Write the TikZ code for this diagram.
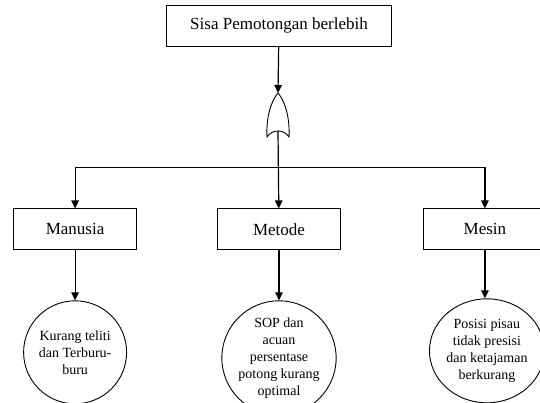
\documentclass[tikz,border=0pt]{standalone}
\usepackage{fontspec}
\setmainfont{Liberation Serif}
\usetikzlibrary{shapes.geometric, arrows.meta, positioning}

\begin{document}
\begin{tikzpicture}[
  x=1pt, y=-1pt,
  node distance=162pt and 81pt,
  box/.style={rectangle, draw, line width=0.9pt,
              minimum width=123pt, minimum height=41pt,
              font=\fontsize{17}{20}\selectfont},
  cause/.style={circle, draw, line width=0.9pt, minimum size=103pt,
                inner sep=0pt, align=center,
                font=\fontsize{14}{17}\selectfont},
  arrow/.style={-{Triangle[length=8pt, width=7.5pt]}, line width=1.2pt},
]
  \useasboundingbox (0,0) rectangle (540,403);

  % Top event
  \node[box, minimum width=225pt] (top) at (279,25.5) {Sisa Pemotongan berlebih};

  % OR gate
  \coordinate (gtop) at (278,93);
  \coordinate (gbot) at (278,131);
  \draw[line width=0.9pt] (gtop) .. controls (272,100) and (266,115) .. (267,137)
    .. controls (272,129) and (284,129) .. (289,137)
    .. controls (290,115) and (284,100) .. (gtop);

  % Causes
  \node[box, below=162pt of top.south, anchor=north] (met) {Metode};
  \node[box, left=80pt of met]  (man) {Manusia};
  \node[box, right=82pt of met] (mes) {Mesin};
  \coordinate (split) at (278,167.5);

  % Root causes
  \node[cause, below=50pt of man] (c1) {Kurang teliti\\dan Terburu-\\buru};
  \node[cause, below=50pt of met] (c2) {SOP dan\\acuan\\persentase\\potong kurang\\optimal};
  \node[cause, ellipse, minimum width=95pt, minimum height=104pt,
        below=48pt of mes, xshift=2pt] (c3) {Posisi pisau\\tidak presisi\\dan ketajaman\\berkurang};

  % Arrows
  \draw[arrow] (top) -- (gtop);
  \draw[arrow] (gbot) -- (met);
  \draw[arrow] (split) -| (man);
  \draw[arrow] (split) -| (mes);
  \draw[arrow] (man) -- (c1);
  \draw[arrow] (met) -- (c2);
  \draw[arrow] (mes.south) -- (mes.south |- c3.north);
\end{tikzpicture}
\end{document}
